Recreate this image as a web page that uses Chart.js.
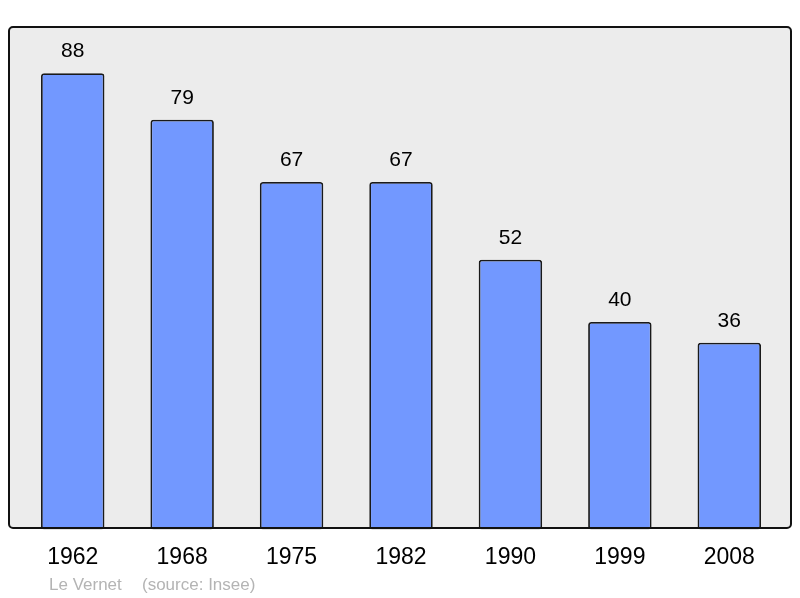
<!DOCTYPE html>
<html><head><meta charset="utf-8">
<script src="https://cdn.jsdelivr.net/npm/chart.js@4/dist/chart.umd.min.js"></script>
<style>html,body{margin:0;padding:0;background:#fff}#wrap{width:800px;height:598px}</style>
</head><body><div id="wrap"><canvas id="c" width="800" height="598"></canvas></div>
<script>
const years = ['1962','1968','1975','1982','1990','1999','2008'];
const population = [88,79,67,67,52,40,36];
const commune = 'Le Vernet';
const source = '(source: Insee)';

const FONT = "'Liberation Sans', Arial, sans-serif";

const framePlugin = {
  id: 'frame',
  beforeDatasetsDraw(chart) {
    const ctx = chart.ctx;
    const x0 = 9, y0 = 27, x1 = 791, y1 = 528, r = 4;
    ctx.save();
    ctx.beginPath();
    ctx.roundRect(x0, y0, x1 - x0, y1 - y0, r);
    ctx.fillStyle = '#ececec';
    ctx.fill();
    ctx.restore();
  },
  afterDatasetsDraw(chart) {
    const ctx = chart.ctx;
    const x0 = 9, y0 = 27, x1 = 791, y1 = 528, r = 4;
    ctx.save();
    ctx.beginPath();
    ctx.roundRect(x0, y0, x1 - x0, y1 - y0, r);
    ctx.lineWidth = 2;
    ctx.strokeStyle = '#111';
    ctx.stroke();
    // value labels
    const meta = chart.getDatasetMeta(0);
    ctx.fillStyle = '#000';
    ctx.font = '21px ' + FONT;
    ctx.textAlign = 'center';
    ctx.textBaseline = 'middle';
    meta.data.forEach((bar, i) => {
      ctx.fillText(String(population[i]), bar.x, bar.y - 22);
    });
    // footer
    ctx.fillStyle = '#b4b4b4';
    ctx.font = '17px ' + FONT;
    ctx.textAlign = 'left';
    ctx.fillText(commune, 49, 585);
    ctx.fillText(source, 142, 585);
    ctx.restore();
  }
};

new Chart(document.getElementById('c'), {
  type: 'bar',
  data: {
    labels: years,
    datasets: [{
      data: population,
      backgroundColor: '#7298ff',
      borderColor: '#1a1a1a',
      borderWidth: 1.8,
      borderRadius: 3,
      borderSkipped: false,
      categoryPercentage: 1,
      barPercentage: 0.58
    }]
  },
  options: {
    responsive: false,
    animation: false,
    devicePixelRatio: 1,
    layout: { padding: { left: 18, right: 16, top: 27, bottom: 13 } },
    plugins: { legend: { display: false }, tooltip: { enabled: false } },
    scales: {
      x: {
        grid: { display: false, drawTicks: false },
        border: { display: false },
        ticks: { color: '#000', font: { family: FONT, size: 23 }, padding: 14 }
      },
      y: {
        display: false,
        min: 0,
        max: 96.9
      }
    }
  },
  plugins: [framePlugin]
});
</script>
</body></html>
